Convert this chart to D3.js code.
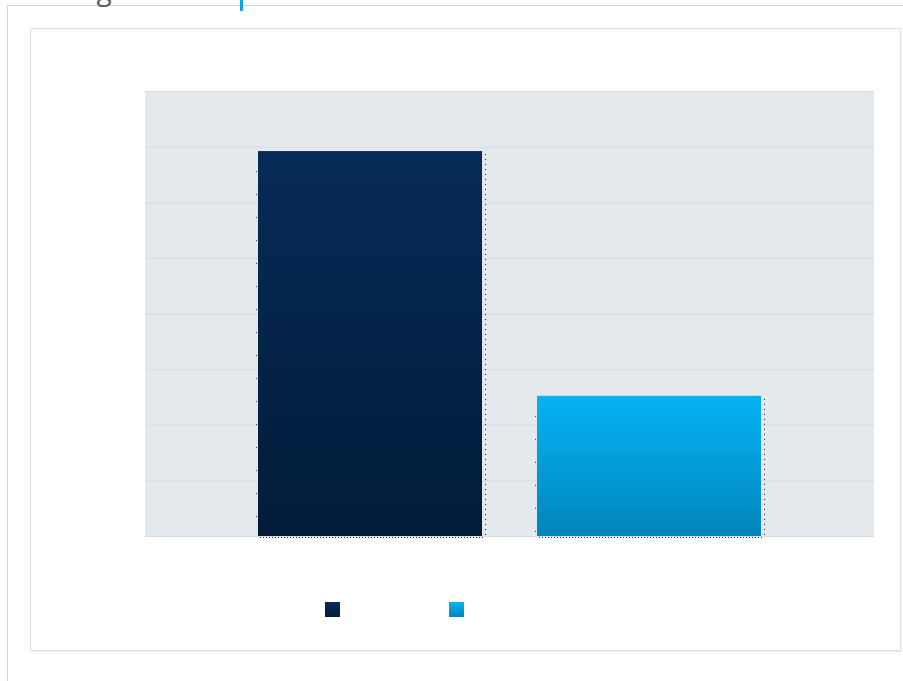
<!DOCTYPE html>
<html>
<head>
<meta charset="utf-8">
<script src="https://cdn.jsdelivr.net/npm/d3@7"></script>
<style>
  html, body { margin: 0; padding: 0; background: #ffffff; }
  svg { display: block; }
</style>
</head>
<body>
<script>
// Two-bar comparison: planned vs. actual
const categories = ["Planned", "Actual"];
const values = [69.2, 25.2];
const yTicks = [0, 10, 20, 30, 40, 50, 60, 70, 80];
const colorStops = [
  ["#062b57", "#021c3a"],
  ["#05b3f5", "#0285bb"]
];

const W = 903, H = 681;
const plot = { left: 145, right: 874, top: 91, bottom: 536 };

const svg = d3.select("body").append("svg")
  .attr("width", W).attr("height", H);

// gradients for bars and legend swatches
const defs = svg.append("defs");
colorStops.forEach((c, i) => {
  const g = defs.append("linearGradient")
    .attr("id", "grad" + i)
    .attr("x1", 0).attr("y1", 0).attr("x2", 0).attr("y2", 1);
  g.append("stop").attr("offset", "0%").attr("stop-color", c[0]);
  g.append("stop").attr("offset", "100%").attr("stop-color", c[1]);
});

// outer page frame
svg.append("path")
  .attr("d", `M7.5,${H} V5.5 H${W}`)
  .attr("fill", "none").attr("stroke", "#d4d4d4");

// page heading, scrolled above the top edge
svg.append("text")
  .attr("x", 44).attr("y", 0)
  .attr("font-family", "Open Sans, Liberation Sans, sans-serif")
  .attr("font-size", 28).attr("fill", "#555b61")
  .text("Budget");
svg.append("rect")
  .attr("x", 240).attr("y", -10).attr("width", 3).attr("height", 21)
  .attr("fill", "#0ea5e4");

// card
svg.append("rect")
  .attr("x", 31.5).attr("y", 30.5).attr("width", 870).attr("height", 622)
  .attr("fill", "#eef1f3");
svg.append("rect")
  .attr("x", 30.5).attr("y", 28.5).attr("width", 870).attr("height", 622)
  .attr("fill", "#ffffff").attr("stroke", "#d9e0e5");

// scales
const x = d3.scaleBand()
  .domain(categories)
  .range([plot.left, plot.right])
  .paddingInner(0.197)
  .paddingOuter(0.405);

const y = d3.scaleLinear()
  .domain([0, d3.max(yTicks)])
  .range([plot.bottom, plot.top]);

// plot background
svg.append("rect")
  .attr("x", plot.left).attr("y", plot.top)
  .attr("width", plot.right - plot.left).attr("height", plot.bottom - plot.top)
  .attr("fill", "#e4e9ee");

// gridlines via axis
const grid = svg.append("g")
  .attr("transform", `translate(${plot.left},0)`)
  .call(d3.axisLeft(y).tickValues(yTicks).tickSize(-(plot.right - plot.left)).tickFormat(""));
grid.select(".domain").remove();
grid.selectAll(".tick line").attr("stroke", "#d5dce3").attr("stroke-width", 1);

// bars
const bars = svg.append("g").selectAll("g.bar")
  .data(values.map((v, i) => ({ cat: categories[i], v, i })))
  .join("g").attr("class", "bar");

// dotted drop-shadow edges
bars.append("line")
  .attr("x1", d => x(d.cat) + x.bandwidth() + 3.5)
  .attr("x2", d => x(d.cat) + x.bandwidth() + 3.5)
  .attr("y1", d => y(d.v) + 3)
  .attr("y2", y(0) + 1)
  .attr("stroke", "#1a1a1a").attr("stroke-width", 1)
  .attr("stroke-dasharray", "1,4");
bars.append("line")
  .attr("x1", d => x(d.cat) + 2)
  .attr("x2", d => x(d.cat) + x.bandwidth() + 3)
  .attr("y1", y(0) + 1.5)
  .attr("y2", y(0) + 1.5)
  .attr("stroke", "#333").attr("stroke-width", 1)
  .attr("stroke-dasharray", "1,2");

bars.append("rect")
  .attr("x", d => x(d.cat))
  .attr("y", d => y(d.v))
  .attr("width", x.bandwidth())
  .attr("height", d => y(0) - y(d.v))
  .attr("fill", d => `url(#grad${d.i})`);

// small marks along the left edge of each bar
bars.append("line")
  .attr("x1", d => x(d.cat) - 1.5)
  .attr("x2", d => x(d.cat) - 1.5)
  .attr("y1", d => y(d.v) + 20)
  .attr("y2", y(0))
  .attr("stroke", "#2a3a4a").attr("stroke-width", 1)
  .attr("stroke-dasharray", "1,22");

// legend swatches
const legendX = [325, 449];
svg.append("g").selectAll("rect")
  .data(categories)
  .join("rect")
  .attr("x", (d, i) => legendX[i])
  .attr("y", 602)
  .attr("width", 15).attr("height", 15)
  .attr("fill", (d, i) => `url(#grad${i})`);
</script>
</body>
</html>
